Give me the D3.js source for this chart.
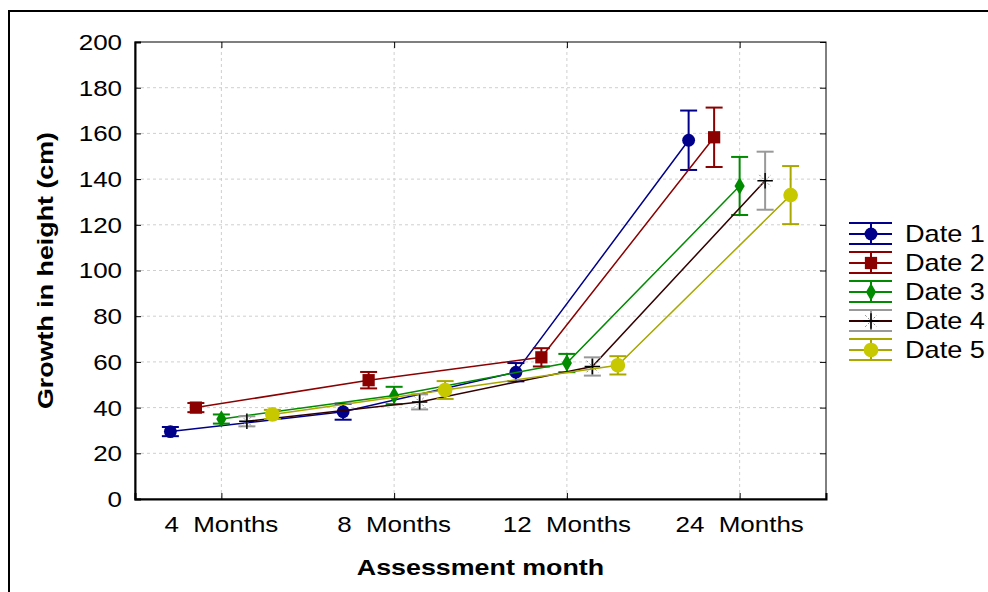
<!DOCTYPE html>
<html>
<head>
<meta charset="utf-8">
<script src="https://cdn.jsdelivr.net/npm/d3@7"></script>
<style>
  body { margin: 0; background: #fff; }
  text { font-family: "Liberation Sans", Arial, sans-serif; }
</style>
</head>
<body>
<div id="graphicContainer"></div>
<script>

// categories and series

var categories = ["4  Months", "8  Months", "12  Months", "24  Months"];
var seriesNames = ["Date 1", "Date 2", "Date 3", "Date 4", "Date 5"];

// means (cm)
var date1 = [29.5, 38.2, 55.5, 157];
var date2 = [40, 52, 62, 158.3];
var date3 = [35, 45.3, 59.5, 137];
var date4 = [34, 42.5, 58, 139.3];
var date5 = [37, 47.7, 58.5, 133];

// half-length of the error bars
var err1 = [2, 3.5, 4, 13];
var err2 = [2, 3.6, 4, 13];
var err3 = [2, 3.8, 4, 12.7];
var err4 = [2.2, 3.3, 4, 12.7];
var err5 = [2, 3.9, 4, 12.7];

var yTicks = [0, 20, 40, 60, 80, 100, 120, 140, 160, 180, 200];

var lineColours = ["#00008b", "#8b0000", "#008b00", "#330000", "#a8a800"];
var errColours = ["#00008b", "#8b0000", "#008b00", "#999999", "#a8a800"];
var markColours = ["#00008b", "#8b0000", "#008b00", "#000000", "#c8c800"];

var means = [date1, date2, date3, date4, date5];
var errs = [err1, err2, err3, err4, err5];

var series = seriesNames.map((name, i) => ({
	name: name,
	index: i,
	values: categories.map((c, j) => ({cat: c, mean: means[i][j], err: errs[i][j]}))
}));

var width = 988, height = 592;
var margin = {top: 42, right: 162, bottom: 93, left: 135};

// the text in the original is a bit wider than Arial
var stretch = 1.18;

var svg = d3.select("#graphicContainer").append("svg")
	.attr("width", width)
	.attr("height", height);

// outer frame of the picture
svg.append("rect")
	.attr("x", 9).attr("y", 11)
	.attr("width", 1000).attr("height", 700)
	.attr("fill", "none")
	.attr("stroke", "#000")
	.attr("stroke-width", 2);

var x = d3.scalePoint()
	.domain(categories)
	.range([margin.left, width - margin.right])
	.padding(0.5);

var offset = d3.scalePoint()
	.domain(seriesNames)
	.range([-51, 51]);

var y = d3.scaleLinear()
	.domain([0, 200])
	.range([height - margin.bottom, margin.top]);

var x0 = margin.left, x1 = width - margin.right;
var y0 = height - margin.bottom, y1 = margin.top;

// gridlines

svg.append("g")
	.selectAll("line")
	.data(yTicks.slice(1, -1))
	.enter().append("line")
	.attr("x1", x0).attr("x2", x1)
	.attr("y1", d => y(d)).attr("y2", d => y(d))
	.attr("stroke", "#cfcfcf")
	.attr("stroke-dasharray", "3,3");

svg.append("g")
	.selectAll("line")
	.data(categories)
	.enter().append("line")
	.attr("x1", d => x(d)).attr("x2", d => x(d))
	.attr("y1", y0).attr("y2", y1)
	.attr("stroke", "#cfcfcf")
	.attr("stroke-dasharray", "3,3");

// plot frame
svg.append("rect")
	.attr("x", x0).attr("y", y1)
	.attr("width", x1 - x0).attr("height", y0 - y1)
	.attr("fill", "none")
	.attr("stroke", "#000")
	.attr("stroke-width", 1);

// axes (ticks point inwards)

var yAxis = svg.append("g")
	.attr("transform", `translate(${x0},0)`)
	.call(d3.axisRight(y).tickValues(yTicks).tickSize(6).tickFormat(""));
yAxis.select(".domain").attr("stroke-width", 2);

svg.append("g")
	.attr("transform", `translate(${x1},0)`)
	.call(d3.axisLeft(y).tickValues(yTicks).tickSize(6).tickFormat(""))
	.select(".domain").remove();

var xAxis = svg.append("g")
	.attr("transform", `translate(0,${y0})`)
	.call(d3.axisTop(x).tickSize(6).tickFormat(""));
xAxis.select(".domain").attr("stroke-width", 2);

svg.append("g")
	.attr("transform", `translate(0,${y1})`)
	.call(d3.axisBottom(x).tickSize(6).tickFormat(""))
	.select(".domain").remove();

// tick labels

svg.append("g")
	.selectAll("text")
	.data(yTicks)
	.enter().append("text")
	.attr("transform", d => `translate(122,${y(d)}) scale(${stretch},1)`)
	.attr("dy", "0.36em")
	.attr("text-anchor", "end")
	.attr("font-size", 22)
	.text(d => d);

svg.append("g")
	.selectAll("text")
	.data(categories)
	.enter().append("text")
	.attr("transform", d => `translate(${x(d)},532) scale(${stretch},1)`)
	.attr("text-anchor", "middle")
	.attr("font-size", 22)
	.style("white-space", "pre")
	.text(d => d);

// axis titles

svg.append("text")
	.attr("transform", `translate(53,${(y0 + y1) / 2}) rotate(-90) scale(1.22,1)`)
	.attr("text-anchor", "middle")
	.attr("font-size", 22)
	.attr("font-weight", "bold")
	.text("Growth in height (cm)");

svg.append("text")
	.attr("transform", `translate(${(x0 + x1) / 2},575) scale(1.22,1)`)
	.attr("text-anchor", "middle")
	.attr("font-size", 22)
	.attr("font-weight", "bold")
	.text("Assessment month");

// markers

var symbolFor = [d3.symbolCircle, d3.symbolSquare, d3.symbolDiamond, null, d3.symbolCircle];
var symbolSize = [130, 150, 90, 0, 170];

function drawMarker(g, i) {
	if (i === 3) {
		g.append("path")
			.attr("d", d3.symbol(d3.symbolTimes, 90)())
			.attr("fill", "none")
			.attr("stroke", "#888")
			.attr("stroke-dasharray", "2,2")
			.attr("stroke-width", 1);
		g.append("path")
			.attr("d", d3.symbol(d3.symbolPlus, 80)())
			.attr("fill", "none")
			.attr("stroke", "#000")
			.attr("stroke-width", 1.5);
	} else {
		g.append("path")
			.attr("d", d3.symbol(symbolFor[i], symbolSize[i])())
			.attr("fill", markColours[i]);
	}
}

var line = d3.line()
	.x(d => x(d.cat) + offset(d.name))
	.y(d => y(d.mean));

var sg = svg.append("g")
	.selectAll("g")
	.data(series)
	.enter().append("g");

sg.append("path")
	.attr("d", s => line(s.values.map(v => Object.assign({name: s.name}, v))))
	.attr("fill", "none")
	.attr("stroke", s => lineColours[s.index])
	.attr("stroke-width", 1.5);

sg.each(function(s) {
	var g = d3.select(this);
	s.values.forEach(v => {
		var cx = x(v.cat) + offset(s.name);
		var eg = g.append("g")
			.attr("stroke", errColours[s.index])
			.attr("stroke-width", 2);
		eg.append("line")
			.attr("x1", cx).attr("x2", cx)
			.attr("y1", y(v.mean - v.err)).attr("y2", y(v.mean + v.err));
		[v.mean - v.err, v.mean + v.err].forEach(e => {
			eg.append("line")
				.attr("x1", cx - 8.5).attr("x2", cx + 8.5)
				.attr("y1", y(e)).attr("y2", y(e));
		});
		drawMarker(g.append("g").attr("transform", `translate(${cx},${y(v.mean)})`), s.index);
	});
});

// legend

var legend = svg.append("g")
	.selectAll("g")
	.data(series)
	.enter().append("g")
	.attr("transform", (s, i) => `translate(871,${234 + i * 29})`);

legend.each(function(s) {
	var g = d3.select(this);
	g.append("line")
		.attr("x1", -22).attr("x2", 21)
		.attr("stroke", lineColours[s.index])
		.attr("stroke-width", 2);
	[-11, 10].forEach(dy => {
		g.append("line")
			.attr("x1", -22).attr("x2", 21)
			.attr("y1", dy).attr("y2", dy)
			.attr("stroke", errColours[s.index])
			.attr("stroke-width", 2);
	});
	g.append("line")
		.attr("y1", -11).attr("y2", 10)
		.attr("stroke", errColours[s.index])
		.attr("stroke-width", 2);
	drawMarker(g, s.index);
	g.append("text")
		.attr("transform", `translate(34,0) scale(${stretch},1)`)
		.attr("dy", "0.36em")
		.attr("font-size", 23)
		.text(s.name);
});

</script>
</body>
</html>
